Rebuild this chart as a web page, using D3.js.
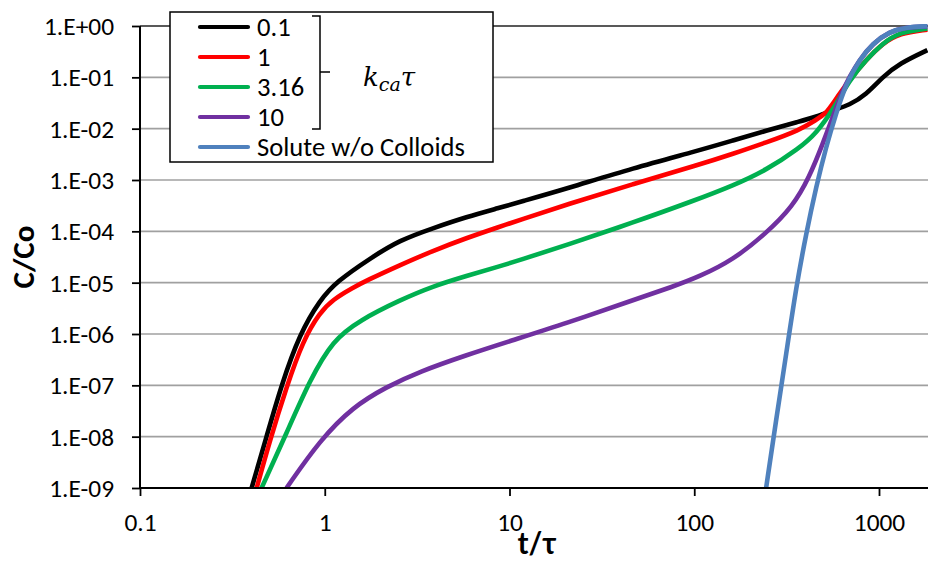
<!DOCTYPE html>
<html><head><meta charset="utf-8">
<script src="https://cdn.jsdelivr.net/npm/d3@7"></script>
<style>body{margin:0;background:#fff;} svg{display:block;}</style>
</head><body>
<svg id="chart" width="928" height="561"></svg>
<script>
// ---------- data ----------
const seriesNames = ["0.1", "1", "3.16", "10", "Solute w/o Colloids"];
const seriesColors = ["#000000", "#FF0000", "#00B050", "#7030A0", "#4F81BD"];
const xTicks = [0.1, 1, 10, 100, 1000];
const xTickLabels = ["0.1", "1", "10", "100", "1000"];
const yTicks = [1, 1e-1, 1e-2, 1e-3, 1e-4, 1e-5, 1e-6, 1e-7, 1e-8, 1e-9];
const yTickLabels = ["1.E+00", "1.E-01", "1.E-02", "1.E-03", "1.E-04", "1.E-05", "1.E-06", "1.E-07", "1.E-08", "1.E-09"];
const xTitle = "t/τ";
const yTitle = "C/Co";

// k_ca*tau = 0.1
const tK01 = [0.402, 0.484, 0.583, 0.733, 0.941, 1.159, 1.754, 2.547, 3.846, 5.848, 8.851, 11.35, 20.32, 46.56, 106.9, 161.8, 244.9, 370.7, 457.1, 562.3, 691.8, 851.1, 1047, 1288, 1828];
const cK01 = [1e-9, 1e-8, 1.02e-7, 1.02e-6, 4.57e-6, 1.05e-5, 2.95e-5, 6.76e-5, 1.15e-4, 1.91e-4, 2.88e-4, 3.72e-4, 6.76e-4, 1.70e-3, 3.80e-3, 5.89e-3, 9.12e-3, 1.38e-2, 1.70e-2, 2.29e-2, 2.88e-2, 4.57e-2, 0.102, 0.186, 0.339];
// k_ca*tau = 1
const tK1 = [0.428, 0.505, 0.621, 0.764, 0.941, 1.107, 1.419, 1.683, 2.547, 3.846, 5.848, 8.851, 11.35, 20.32, 46.56, 106.9, 161.8, 244.9, 370.7, 457.1, 517.6, 562.3, 691.8, 851.1, 1047, 1288, 1828];
const cK1 = [1e-9, 8.51e-9, 9.33e-8, 7.59e-7, 2.63e-6, 4.68e-6, 7.94e-6, 1.10e-5, 2.19e-5, 4.17e-5, 7.41e-5, 1.23e-4, 1.66e-4, 3.31e-4, 8.32e-4, 2.0e-3, 3.24e-3, 5.37e-3, 9.33e-3, 1.48e-2, 2.0e-2, 3.09e-2, 8.91e-2, 0.219, 0.457, 0.724, 0.851];
// k_ca*tau = 3.16
const tK316 = [0.455, 0.621, 0.830, 1.107, 1.549, 2.547, 3.846, 5.848, 8.851, 11.35, 20.32, 46.56, 100, 161.8, 244.9, 370.7, 457.1, 562.3, 691.8, 851.1, 1047, 1288, 1828];
const cK316 = [1e-9, 1.17e-8, 1.26e-7, 7.59e-7, 1.86e-6, 4.57e-6, 8.51e-6, 1.35e-5, 2.09e-5, 2.75e-5, 5.37e-5, 1.48e-4, 3.98e-4, 7.76e-4, 1.55e-3, 4.17e-3, 8.13e-3, 2.29e-2, 8.91e-2, 0.219, 0.457, 0.759, 0.891];
// k_ca*tau = 10
const tK10 = [0.621, 0.941, 1.419, 2.158, 3.266, 5.848, 10, 20.32, 46.56, 76.56, 106.9, 161.8, 244.9, 341.2, 420.7, 496.6, 562.3, 636.8, 691.8, 783.4, 924.7, 1138, 1403, 1828];
const cK10 = [1e-9, 8.51e-9, 3.80e-8, 9.33e-8, 1.86e-7, 3.89e-7, 7.24e-7, 1.62e-6, 4.57e-6, 8.32e-6, 1.32e-5, 2.75e-5, 9.12e-5, 3.02e-4, 1.15e-3, 5.13e-3, 1.70e-2, 5.62e-2, 0.102, 0.219, 0.457, 0.776, 0.944, 0.977];
// Solute without colloids
const tSolute = [244.9, 277.3, 314.8, 356.5, 403.6, 457.1, 517.6, 586.1, 663.7, 783.4, 924.7, 1138, 1403, 1828];
const cSolute = [1e-9, 2.09e-8, 4.17e-7, 8.32e-6, 9.12e-5, 7.41e-4, 4.47e-3, 2.0e-2, 7.59e-2, 0.219, 0.457, 0.776, 0.944, 0.989];

const seriesT = [tK01, tK1, tK316, tK10, tSolute];
const seriesC = [cK01, cK1, cK316, cK10, cSolute];

// ---------- drawing ----------
const svg = d3.select("#chart");
const sansFamily = "Carlito, Calibri, Lato, 'Open Sans', sans-serif";

function fitSize(sample, family, weight, target) {
  const t = svg.append("text").attr("font-family", family).attr("font-weight", weight)
    .attr("font-size", 100).text(sample);
  const w = t.node().getComputedTextLength();
  t.remove();
  return 100 * target / w;
}
const tickFont = fitSize("1.E+00", sansFamily, "normal", 70);
const legendFont = fitSize("Solute w/o Colloids", sansFamily, "normal", 208);
const titleFont = fitSize("C/Co", sansFamily, "bold", 63);

const plotL = 140, plotR = 928, plotT = 26, plotB = 488;
const x = d3.scaleLog().domain([0.1, 1000]).range([140, 879]);
const y = d3.scaleLog().domain([1e-9, 1]).range([plotB, plotT]);

// gridlines
svg.append("g").selectAll("line").data(yTicks.slice(0, -1)).join("line")
  .attr("x1", plotL).attr("x2", plotR)
  .attr("y1", d => y(d)).attr("y2", d => y(d))
  .attr("stroke", (d, i) => i === 0 ? "#222" : "#a0a0a0")
  .attr("stroke-width", 1.6);

// clip
svg.append("defs").append("clipPath").attr("id", "plotclip")
  .append("rect").attr("x", plotL).attr("y", plotT - 6).attr("width", plotR - plotL).attr("height", plotB - plotT + 6);

const line = d3.line().x(d => x(d[0])).y(d => y(d[1])).curve(d3.curveBasis);
const gLines = svg.append("g").attr("clip-path", "url(#plotclip)");
seriesT.forEach((ts, i) => {
  const pts = ts.map((t, j) => [t, seriesC[i][j]]);
  gLines.append("path").datum(pts).attr("d", line)
    .attr("fill", "none").attr("stroke", seriesColors[i])
    .attr("stroke-width", 4.6).attr("stroke-linejoin", "round");
});

// axes
const yAxis = d3.axisLeft(y).tickValues(yTicks).tickFormat((d, i) => yTickLabels[i]).tickSize(8).tickSizeOuter(0);
const gy = svg.append("g").attr("transform", `translate(${plotL},0)`).call(yAxis);
gy.select(".domain").remove();
gy.selectAll(".tick line").attr("stroke", "#000").attr("stroke-width", 1.8);
gy.selectAll(".tick text").attr("x", -26).attr("dy", "0.34em")
  .attr("font-family", sansFamily).attr("font-size", tickFont).attr("fill", "#000");

const xAxis = d3.axisBottom(x).tickValues(xTicks).tickFormat((d, i) => xTickLabels[i]).tickSize(8).tickSizeOuter(0);
const gx = svg.append("g").attr("transform", `translate(0,${plotB})`).call(xAxis);
gx.select(".domain").remove();
gx.selectAll(".tick line").attr("stroke", "#000").attr("stroke-width", 1.8);
gx.selectAll(".tick text").attr("y", 43).attr("dy", 0)
  .attr("font-family", sansFamily).attr("font-size", tickFont).attr("fill", "#000");

// axis lines
svg.append("line").attr("x1", plotL).attr("x2", plotR).attr("y1", plotB).attr("y2", plotB)
  .attr("stroke", "#000").attr("stroke-width", 2);
svg.append("line").attr("x1", plotL).attr("x2", plotL).attr("y1", plotT).attr("y2", plotB)
  .attr("stroke", "#000").attr("stroke-width", 2);

// axis titles
svg.append("text").attr("transform", `translate(23,257) rotate(-90)`)
  .attr("text-anchor", "middle").attr("dy", "0.35em")
  .attr("font-family", sansFamily).attr("font-weight", "bold").attr("font-size", titleFont)
  .text(yTitle);
svg.append("text").attr("x", 537).attr("y", 554).attr("text-anchor", "middle")
  .attr("font-family", "Lato, 'Open Sans', sans-serif").attr("font-weight", "bold").attr("font-size", titleFont * 0.95)
  .text(xTitle);

// legend
const lg = svg.append("g");
lg.append("rect").attr("x", 170).attr("y", 12).attr("width", 323).attr("height", 150)
  .attr("fill", "#fff").attr("stroke", "#000").attr("stroke-width", 1.5);
seriesNames.forEach((name, i) => {
  const yy = 27 + i * 30;
  lg.append("line").attr("x1", 200).attr("x2", 248).attr("y1", yy).attr("y2", yy)
    .attr("stroke", seriesColors[i]).attr("stroke-width", 4.2).attr("stroke-linecap", "round");
  lg.append("text").attr("x", 257).attr("y", yy).attr("dy", "0.35em")
    .attr("font-family", sansFamily).attr("font-size", legendFont).text(name);
});
// brace
lg.append("path").attr("d", "M312,16 H320 V129 H312 M320,72 H330")
  .attr("fill", "none").attr("stroke", "#000").attr("stroke-width", 1.5);
const kt = lg.append("text").attr("x", 363).attr("y", 86)
  .attr("font-family", "'DejaVu Serif', 'Liberation Serif', serif").attr("font-style", "italic").attr("font-size", 26);
kt.append("tspan").text("k");
kt.append("tspan").attr("font-size", 19).attr("dy", 5).text("ca");
kt.append("tspan").attr("dy", -5).text("τ");
</script>
</body></html>
